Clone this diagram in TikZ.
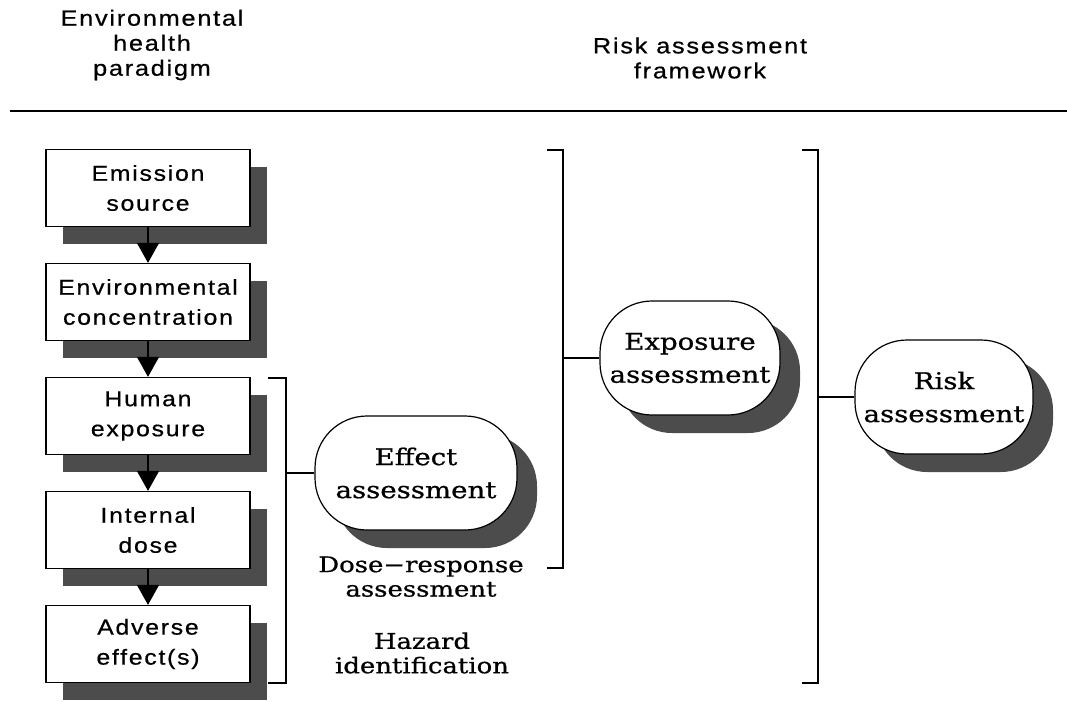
\documentclass[tikz,border=0pt]{standalone}
\usepackage{fontspec}
\usetikzlibrary{arrows.meta,shadows}
\newfontfamily\boxfont[FakeStretch=1.15,LetterSpace=8,FakeBold=0.6]{Liberation Sans}
\newfontfamily\pillfont[FakeStretch=1.2,FakeBold=0.8]{DejaVu Serif}
\tikzstyle{heading} = [
  align=center,
  inner sep=0pt,
  font=\boxfont\fontsize{11}{12.5}\selectfont,
]
\tikzstyle{stagebox} = [
  draw,
  fill=white,
  line width=0.6pt,
  minimum width=102pt,
  minimum height=38.5pt,
  inner sep=0pt,
  align=center,
  font=\boxfont\fontsize{10.8}{15}\selectfont,
  drop shadow={shadow xshift=8.5pt, shadow yshift=-8.5pt, fill=black!70, opacity=1},
]
\tikzstyle{assessbox} = [
  draw,
  fill=white,
  line width=0.6pt,
  rounded corners=26pt,
  minimum height=57pt,
  inner sep=0pt,
  align=center,
  font=\pillfont\fontsize{11.5}{16.5}\selectfont,
  drop shadow={shadow xshift=10pt, shadow yshift=-9pt, fill=black!70, opacity=1},
]
\tikzstyle{sidenote} = [
  align=center,
  inner sep=0pt,
  anchor=north,
  font=\pillfont\fontsize{10.8}{12.2}\selectfont,
]
\tikzstyle{flow} = [line width=0.6pt, -{Triangle[width=11pt,length=10pt]}]
\tikzstyle{bracket} = [line width=0.6pt]

\begin{document}
\begin{tikzpicture}[x=0.5pt, y=-0.5pt]
            \useasboundingbox (0,0) rectangle (1067,702);

            % Headings
            \node[heading] (paradigm) at (152,45) {Environmental\\health\\paradigm};
            \node[heading] (framework) at (700,58) {Risk assessment\\framework};
            \draw[bracket] (10,111) -- (1067,111);

            % Environmental health paradigm
            \node[stagebox] (source) at (148,188) {Emission\\source};
            \node[stagebox] (concentration) at (148,302) {Environmental\\concentration};
            \node[stagebox] (exposure) at (148,416) {Human\\exposure};
            \node[stagebox] (dose) at (148,530) {Internal\\dose};
            \node[stagebox] (adverse) at (148,644) {Adverse\\effect(s)};

            \draw[flow] (source) -- (concentration);
            \draw[flow] (concentration) -- (exposure);
            \draw[flow] (exposure) -- (dose);
            \draw[flow] (dose) -- (adverse);

            % Assessment steps
            \node[assessbox, minimum width=101pt] (effect) at (416,473) {Effect\\assessment};
            \node[assessbox, minimum width=90pt] (expoassess) at (690,358) {Exposure\\assessment};
            \node[assessbox, minimum width=89pt] (risk) at (944,397) {Risk\\assessment};

            \node[sidenote] (doseresp) at (421,556) {Dose−response\\assessment};
            \node[sidenote] (hazard) at (422,632) {Hazard\\identification};

            % Brackets
            \coordinate (effBrk) at (286,473);
            \coordinate (expBrk) at (563,358);
            \coordinate (riskBrk) at (818,397);
            \draw[bracket] (268,378) -- (286,378) -- (286,683) -- (268,683);
            \draw[bracket] (547,150) -- (563,150) -- (563,568) -- (547,568);
            \draw[bracket] (802,150) -- (818,150) -- (818,683) -- (802,683);

            \draw[bracket] (effBrk) -- (effect);
            \draw[bracket] (expBrk) -- (expoassess);
            \draw[bracket] (riskBrk) -- (risk);
          \end{tikzpicture}
\end{document}
